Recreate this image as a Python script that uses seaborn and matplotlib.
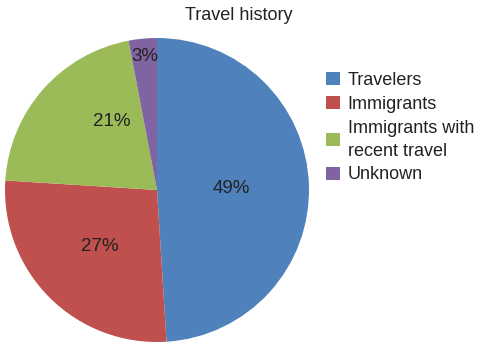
import matplotlib
matplotlib.use("Agg")
import matplotlib.pyplot as plt
import seaborn as sns
import numpy as np
from matplotlib.patches import Patch

categories = ["Travelers", "Immigrants", "Immigrants with\nrecent travel", "Unknown"]
values = [49, 27, 21, 3]
colors = ["#4F81BD", "#C0504D", "#9BBB59", "#8064A2"]

sns.set_theme(style="white")
plt.rcParams['font.family'] = ['Liberation Sans', 'DejaVu Sans']

fig = plt.figure(figsize=(4.84, 3.45), dpi=100)
ax = fig.add_axes([5/484, 3/345, 304/484, 304/345])

wedges, texts, autotexts = ax.pie(values, colors=colors, startangle=90, counterclock=False,
                                  autopct='%d%%', pctdistance=0.53,
                                  wedgeprops=dict(linewidth=0),
                                  textprops=dict(fontsize=13.5, color="#222222"))
# label placement tweaks (distance from centre, angle shift in degrees)
label_dist = [0.49, 0.53, 0.54, 0.88]
label_shift = [-1, 0, -15, 0]
for w, t, d, s in zip(wedges, autotexts, label_dist, label_shift):
    ang = np.deg2rad((w.theta1 + w.theta2) / 2 + s)
    t.set_position((d * np.cos(ang), d * np.sin(ang)))
ax.set_aspect('equal')
ax.set_xlim(-1, 1)
ax.set_ylim(-1, 1)

fig.text(239/484, 1 - 15/345, "Travel history", ha='center', va='center', fontsize=13, color="#222222")

handles = [Patch(facecolor=c, edgecolor='none') for c in colors]
leg = fig.legend(handles, categories, loc='upper left', bbox_to_anchor=(326/484, 1 - 72/345),
                 frameon=False, fontsize=13, handlelength=0.75, handleheight=0.75,
                 handletextpad=0.45, labelspacing=0.38, borderaxespad=0, borderpad=0,
                 labelcolor="#222222")
for t in leg.get_texts():
    t.set_linespacing(1.45)

fig.savefig("out.png", dpi=100)
